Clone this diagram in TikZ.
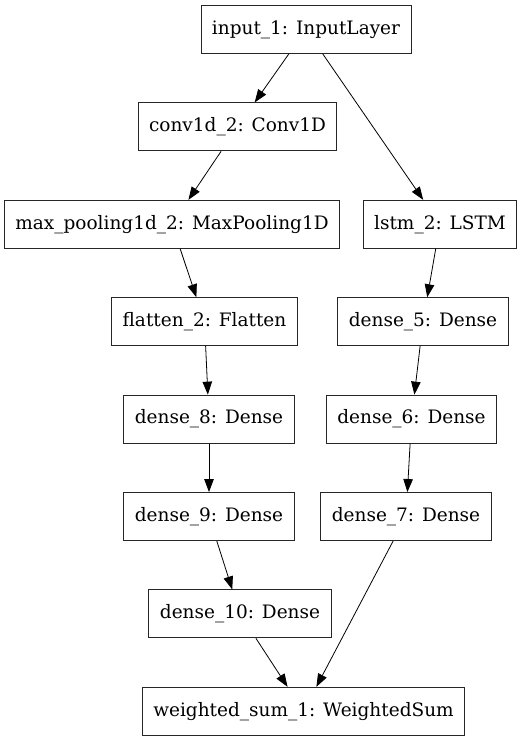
\documentclass[tikz,border=0pt]{standalone}
\usepackage{fontspec}
\setmainfont{DejaVu Serif}
\usepackage{tikz}
\usetikzlibrary{arrows.meta, positioning}

\begin{document}
\begin{tikzpicture}[
    x=1pt, y=-1pt,
    node distance=48.5pt,
    layer/.style={rectangle, draw=black!85, line width=0.9pt, minimum height=48pt,
                  inner xsep=11pt, font=\fontsize{18.5}{22}\selectfont},
    link/.style={line width=0.8pt, -{Triangle[length=13pt, width=9.5pt]}}
]
    \useasboundingbox (0,0) rectangle (530,741);
    % left branch
    \node[layer] (input) at (306,29.5) {input\_1: InputLayer};
    \node[layer, below=of input, xshift=-68.5pt] (conv) {conv1d\_2: Conv1D};
    \node[layer, below=of conv, xshift=-65.5pt] (maxpool) {max\_pooling1d\_2: MaxPooling1D};
    \node[layer, below=of maxpool, xshift=32.5pt] (flatten) {flatten\_2: Flatten};
    \node[layer, below=of flatten, xshift=4.5pt] (dense8) {dense\_8: Dense};
    \node[layer, below=of dense8] (dense9) {dense\_9: Dense};
    \node[layer, below=of dense9, xshift=31pt] (dense10) {dense\_10: Dense};
    % right branch
    \node[layer, below=of conv, xshift=202.5pt] (lstm) {lstm\_2: LSTM};
    \node[layer, below=of lstm, xshift=-17pt] (dense5) {dense\_5: Dense};
    \node[layer, below=of dense5, xshift=-11.5pt] (dense6) {dense\_6: Dense};
    \node[layer, below=of dense6, xshift=-5.5pt] (dense7) {dense\_7: Dense};
    % merge
    \node[layer, below=of dense10, xshift=63.5pt] (wsum) {weighted\_sum\_1: WeightedSum};

    \draw[link] (input) -- (conv);
    \draw[link] (input) -- (lstm);
    \draw[link] (conv) -- (maxpool);
    \draw[link] (maxpool) -- (flatten);
    \draw[link] (flatten) -- (dense8);
    \draw[link] (dense8) -- (dense9);
    \draw[link] (dense9) -- (dense10);
    \draw[link] (lstm) -- (dense5);
    \draw[link] (dense5) -- (dense6);
    \draw[link] (dense6) -- (dense7);
    \draw[link] (dense10) -- (wsum);
    \draw[link] (dense7) -- (wsum);
\end{tikzpicture}
\end{document}
